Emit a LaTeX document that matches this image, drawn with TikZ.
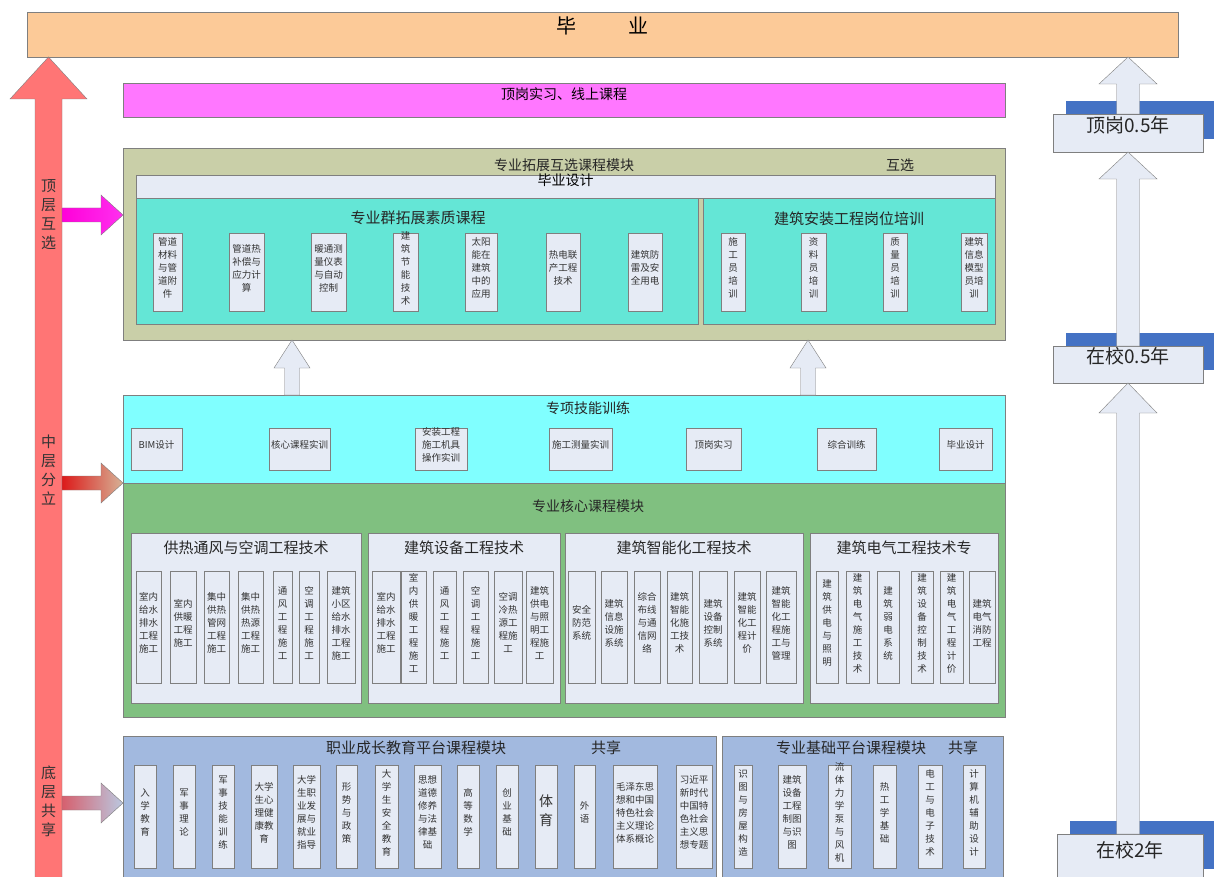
\documentclass[tikz,border=0pt]{standalone}
\usepackage{fontspec}
\newfontfamily\cjk{Noto Sans CJK SC}
\usetikzlibrary{fit,calc,shadows}

\definecolor{peach}{HTML}{FCCA98}
\definecolor{pinkbar}{HTML}{FF77FF}
\definecolor{olivebg}{HTML}{C9CFA8}
\definecolor{paleblue}{HTML}{E6EBF5}
\definecolor{tealbg}{HTML}{64E6D6}
\definecolor{cyanbg}{HTML}{80FFFF}
\definecolor{greenbg}{HTML}{80C080}
\definecolor{steelbg}{HTML}{A2B9DF}
\definecolor{yearblue}{HTML}{4472C4}
\definecolor{redarrow}{HTML}{FF7575}
\definecolor{linegray}{HTML}{7F7F7F}

% block arrow pointing up: style, tail, tip, shaft half width, head half width, head length
\newcommand{\upblock}[6]{%
  \path[#1] ($(#2)+(-#4,0)$) -- ($(#3)+(-#4,#6)$) -- ($(#3)+(-#5,#6)$) -- (#3)
    -- ($(#3)+(#5,#6)$) -- ($(#3)+(#4,#6)$) -- ($(#2)+(#4,0)$) -- cycle;}
% block arrow pointing right
\newcommand{\rightblock}[6]{%
  \path[#1] ($(#2)+(0,-#4)$) -- ($(#3)+(-#6,-#4)$) -- ($(#3)+(-#6,-#5)$) -- (#3)
    -- ($(#3)+(-#6,#5)$) -- ($(#3)+(-#6,#4)$) -- ($(#2)+(0,#4)$) -- cycle;}

\begin{document}
\begin{tikzpicture}[
    x=1pt, y=-1pt,
    panel/.style={draw=linegray, inner sep=0pt, outer sep=0pt},
    item/.style={panel, fill=paleblue, align=center, text=black!80,
      font=\cjk\fontsize{9.5}{13}\selectfont},
    title/.style={inner sep=0pt, text=black!85, font=\cjk\fontsize{15}{18}\selectfont},
    modtitle/.style={title, font=\cjk\fontsize{14}{17}\selectfont},
    side/.style={inner sep=0pt, align=center, text=black!80, font=\cjk\fontsize{15}{19}\selectfont},
    year/.style={panel, fill=paleblue, text=black!85, font=\cjk\fontsize{19}{22}\selectfont,
      drop shadow={shadow xshift=13pt, shadow yshift=13pt, fill=yearblue, opacity=1}},
    hollow/.style={fill=paleblue, draw=linegray}
  ]
  \fill[white] (0,0) rectangle (1214,877);
  \useasboundingbox (0,0) rectangle (1214,877);

  % top and the layers
  \node[panel, fill=peach, fit={(27,12) (1178,57)}, font=\cjk\fontsize{20}{24}\selectfont] (grad) {毕\hspace{52pt}业};
  \node[panel, fill=pinkbar, fit={(123,83) (1005,117)}, font=\cjk\fontsize{14}{17}\selectfont] (online) {顶岗实习、线上课程};

  \node[panel, fill=olivebg, fit={(123,148) (1005,340)}] (ext) {};
  \node[modtitle] (ext-t) at (564,165) {专业拓展互选课程模块};
  \node[modtitle] (ext-sel) at (900,165) {互选};
  \node[panel, fill=paleblue, fit={(136,175) (995,198)}, font=\cjk\fontsize{14}{17}\selectfont] (thesis) {毕业设计};
  \node[panel, fill=tealbg, fit={(136,198) (698,324)}] (quality) {};
  \node[title] (quality-t) at (418,218) {专业群拓展素质课程};
  \node[panel, fill=tealbg, fit={(703,198) (995,324)}] (post) {};
  \node[title] (post-t) at (849,219) {建筑安装工程岗位培训};

  \foreach \xa/\xb/\txt [count=\i] in {153/182/{管道\\材料\\与管\\道附\\件},
      229/264/{管道热\\补偿与\\应力计\\算}, 311/346/{暖通测\\量仪表\\与自动\\控制},
      393/418/{建\\筑\\节\\能\\技\\术}, 465/497/{太阳\\能在\\建筑\\中的\\应用},
      546/580/{热电联\\产工程\\技术}, 628/662/{建筑防\\雷及安\\全用电},
      721/745/{施\\工\\员\\培\\训}, 801/826/{资\\料\\员\\培\\训},
      883/907/{质\\量\\员\\培\\训}, 961/987/{建筑\\信息\\模型\\员培\\训}}
    \node[item, fit={(\xa,233) (\xb,311)}] (ext\i) {\txt};

  \node[panel, fill=cyanbg, fit={(123,395) (1005,483)}] (skill) {};
  \node[modtitle] (skill-t) at (588,408) {专项技能训练};
  \foreach \xa/\xb/\txt [count=\i] in {131/182/{BIM设计}, 269/330/{核心课程实训},
      415/467/{安装工程\\施工机具\\操作实训}, 549/612/{施工测量实训}, 686/741/{顶岗实习},
      817/876/{综合训练}, 939/992/{毕业设计}}
    \node[item, fit={(\xa,428) (\xb,470)}] (skill\i) {\txt};

  \node[panel, fill=greenbg, fit={(123,483) (1005,717)}] (core) {};
  \node[modtitle] (core-t) at (588,506) {专业核心课程模块};
  \foreach \xa/\xb/\cx/\txt [count=\i] in {131/361/246/供热通风与空调工程技术,
      368/560/464/建筑设备工程技术, 565/803/684/建筑智能化工程技术, 810/998/904/建筑电气工程技术专}
  {
    \node[panel, fill=paleblue, fit={(\xa,533) (\xb,703)}] (major\i) {};
    \node[title] (major\i-t) at (\cx,548) {\txt};
  }
  \foreach \xa/\xb/\txt [count=\i] in {136/161/{室内\\给水\\排水\\工程\\施工},
      170/196/{室内\\供暖\\工程\\施工}, 204/229/{集中\\供热\\管网\\工程\\施工},
      238/263/{集中\\供热\\热源\\工程\\施工}, 273/292/{通\\风\\工\\程\\施\\工},
      299/319/{空\\调\\工\\程\\施\\工}, 327/355/{建筑\\小区\\给水\\排水\\工程\\施工},
      372/400/{室内\\给水\\排水\\工程\\施工}, 401/426/{室\\内\\供\\暖\\工\\程\\施\\工},
      433/456/{通\\风\\工\\程\\施\\工}, 463/488/{空\\调\\工\\程\\施\\工},
      494/522/{空调\\冷热\\源工\\程施\\工}, 526/553/{建筑\\供电\\与照\\明工\\程施\\工},
      568/595/{安全\\防范\\系统}, 601/627/{建筑\\信息\\设施\\系统},
      634/660/{综合\\布线\\与通\\信网\\络}, 667/692/{建筑\\智能\\化施\\工技\\术},
      699/727/{建筑\\设备\\控制\\系统}, 734/760/{建筑\\智能\\化工\\程计\\价},
      766/796/{建筑\\智能\\化工\\程施\\工与\\管理},
      816/838/{建\\筑\\供\\电\\与\\照\\明}, 846/869/{建\\筑\\电\\气\\施\\工\\技\\术},
      877/899/{建\\筑\\弱\\电\\系\\统}, 911/933/{建\\筑\\设\\备\\控\\制\\技\\术},
      940/963/{建\\筑\\电\\气\\工\\程\\计\\价}, 969/995/{建筑\\电气\\消防\\工程}}
    \node[item, fit={(\xa,571) (\xb,683)}] (course\i) {\txt};

  % the two shared platforms
  \node[panel, fill=steelbg, fit={(123,736) (716,882)}] (career) {};
  \node[title] (career-t) at (416,748) {职业成长教育平台课程模块};
  \node[title] (career-sh) at (606,748) {共享};
  \node[panel, fill=steelbg, fit={(722,736) (1003,882)}] (base) {};
  \node[title] (base-t) at (851,748) {专业基础平台课程模块};
  \node[title] (base-sh) at (963,748) {共享};
  \foreach \xa/\xb/\txt [count=\i] in {134/156/{入\\学\\教\\育}, 173/195/{军\\事\\理\\论},
      212/234/{军\\事\\技\\能\\训\\练}, 251/277/{大学\\生心\\理健\\康教\\育},
      293/320/{大学\\生职\\业发\\展与\\就业\\指导}, 336/357/{形\\势\\与\\政\\策},
      375/398/{大\\学\\生\\安\\全\\教\\育}, 414/441/{思想\\道德\\修养\\与法\\律基\\础},
      457/479/{高\\等\\数\\学}, 496/518/{创\\业\\基\\础}, 574/595/{外\\语},
      613/657/{毛泽东思\\想和中国\\特色社会\\主义理论\\体系概论},
      676/712/{习近平\\新时代\\中国特\\色社会\\主义思\\想专题},
      734/752/{识\\图\\与\\房\\屋\\构\\造}, 778/806/{建筑\\设备\\工程\\制图\\与识\\图},
      828/851/{流\\体\\力\\学\\泵\\与\\风\\机}, 873/896/{热\\工\\学\\基\\础},
      918/942/{电\\工\\与\\电\\子\\技\\术}, 963/985/{计\\算\\机\\辅\\助\\设\\计}}
    \node[item, fit={(\xa,765) (\xb,868)}] (share\i) {\txt};
  \node[item, fit={(535,765) (557,868)}, font=\cjk\fontsize{14}{19}\selectfont] (sport) {体\\育};

  % time line on the right
  \node[year, fit={(1053,114) (1203,152)}] (y3) {顶岗0.5年};
  \node[year, fit={(1053,346) (1203,383)}] (y2) {在校0.5年};
  \node[year, fit={(1057,834) (1203,882)}] (y1) {在校2年};
  \upblock{hollow}{y2.south |- y1.north}{y2.south}{11.5}{29}{30}
  \upblock{hollow}{y2.north}{y3.south}{11.5}{29}{27}
  \upblock{hollow}{y3.north}{y3.north |- grad.south}{11.5}{29}{27}

  % arrows between layers
  \upblock{hollow}{292,0 |- skill.north}{292,0 |- ext.south}{7.5}{18}{28}
  \upblock{hollow}{808,0 |- skill.north}{808,0 |- ext.south}{7.5}{18}{28}

  % big arrow on the left
  \coordinate (redtail) at (48.5,880);
  \coordinate (redtip) at (48.5,0 |- grad.south);
  \upblock{fill=redarrow, draw=linegray}{redtail}{redtip}{13.5}{38.5}{42}
  \node[side] (lab-top) at (48.5,215) {顶\\层\\互\\选};
  \node[side] (lab-mid) at (48.5,470) {中\\层\\分\\立};
  \node[side] (lab-low) at (48.5,801) {底\\层\\共\\享};

  \coordinate (tail-top) at (62,215);
  \coordinate (tail-mid) at (62,483);
  \coordinate (tail-low) at (62,803);
  \rightblock{left color=magenta!85!red, right color=magenta!75!pink, draw=linegray}{tail-top}{ext.west |- tail-top}{7}{20}{22}
  \rightblock{left color=red!85!black!90, right color={rgb,255:red,214;green,178;blue,150}, draw=linegray}{tail-mid}{core.west |- tail-mid}{7}{20}{22}
  \rightblock{left color={rgb,255:red,214;green,96;blue,110}, right color={rgb,255:red,186;green,200;blue,224}, draw=linegray}{tail-low}{career.west |- tail-low}{7}{20}{22}
\end{tikzpicture}
\end{document}
